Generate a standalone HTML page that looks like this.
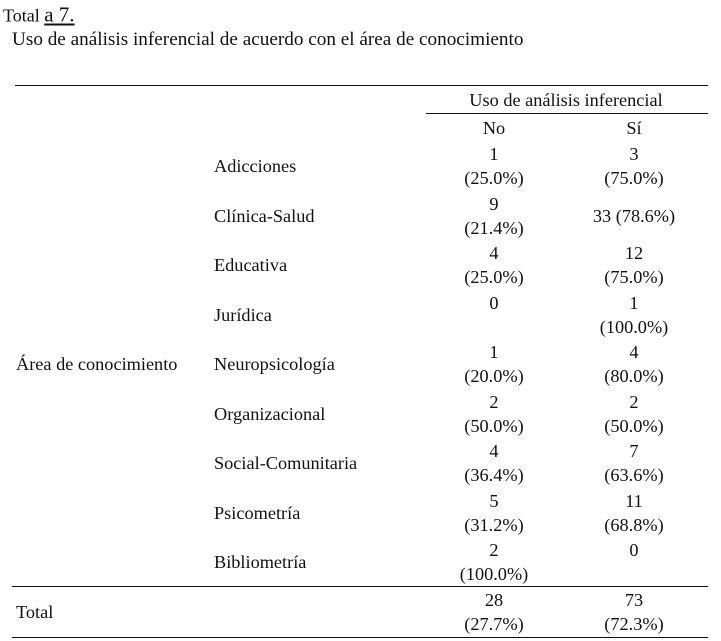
<!DOCTYPE html>
<html><head><meta charset="utf-8"><style>
body{margin:0;width:721px;height:641px;background:#fff;position:relative;overflow:hidden;font-family:"Liberation Serif",serif;font-size:18.3px;color:#111}
.t{position:absolute;white-space:nowrap;line-height:20px;transform:translateY(-50%)}
.c{transform:translate(-50%,-50%)}
.l{position:absolute;height:1px;background:#111}
</style></head><body>
<div class="t" style="left:3px;top:15px;font-size:18px">Total <u style="font-size:21px">a 7.</u></div>
<div class="t" style="left:12px;top:40px;font-size:19.2px">Uso de análisis inferencial de acuerdo con el área de conocimiento</div>
<div class="l" style="left:15px;top:85px;width:693px"></div>
<div class="t c" style="left:566px;top:100px">Uso de análisis inferencial</div>
<div class="l" style="left:426px;top:113px;width:282px"></div>
<div class="t c" style="left:494px;top:128px">No</div>
<div class="t c" style="left:634px;top:128px">Sí</div>
<div class="t" style="left:16px;top:364px">Área de conocimiento</div>
<div class="l" style="left:12px;top:586px;width:696px"></div>
<div class="t" style="left:16px;top:612px">Total</div>
<div class="l" style="left:12px;top:637px;width:696px"></div>
<script>
const categories=["Adicciones","Clínica-Salud","Educativa","Jurídica","Neuropsicología","Organizacional","Social-Comunitaria","Psicometría","Bibliometría"];
const noCounts=[1,9,4,0,1,2,4,5,2];
const noPct=["(25.0%)","(21.4%)","(25.0%)","","(20.0%)","(50.0%)","(36.4%)","(31.2%)","(100.0%)"];
const siCounts=[3,33,12,1,4,2,7,11,0];
const siPct=["(75.0%)","(78.6%)","(75.0%)","(100.0%)","(80.0%)","(50.0%)","(63.6%)","(68.8%)",""];
const inlineSi=[false,true,false,false,false,false,false,false,false];
const totals=[28,73];
const totalPct=["(27.7%)","(72.3%)"];
function add(txt,x,y,center,name){
  const d=document.createElement('div');
  d.className='t'+(center?' c':'');
  d.style.left=x+'px';d.style.top=y+'px';d.textContent=txt;
  
  
  document.body.appendChild(d);
}
function rowY(i){return 166+i*49.5;}
categories.forEach((c,i)=>{
  const y=rowY(i);
  add(c,214,y,false,'row-label');
  add(String(noCounts[i]),494,y-12,true,'cell-no-count');
  if(noPct[i])add(noPct[i],494,y+12,true,'cell-no-pct');
  if(inlineSi[i]){add(siCounts[i]+' '+siPct[i],634,y,true,'cell-si');}
  else{
    add(String(siCounts[i]),634,y-12,true,'cell-si-count');
    if(siPct[i])add(siPct[i],634,y+12,true,'cell-si-pct');
  }
});
add(String(totals[0]),494,600,true,'total-no-count');
add(totalPct[0],494,624,true,'total-no-pct');
add(String(totals[1]),634,600,true,'total-si-count');
add(totalPct[1],634,624,true,'total-si-pct');
</script>
</body></html>
